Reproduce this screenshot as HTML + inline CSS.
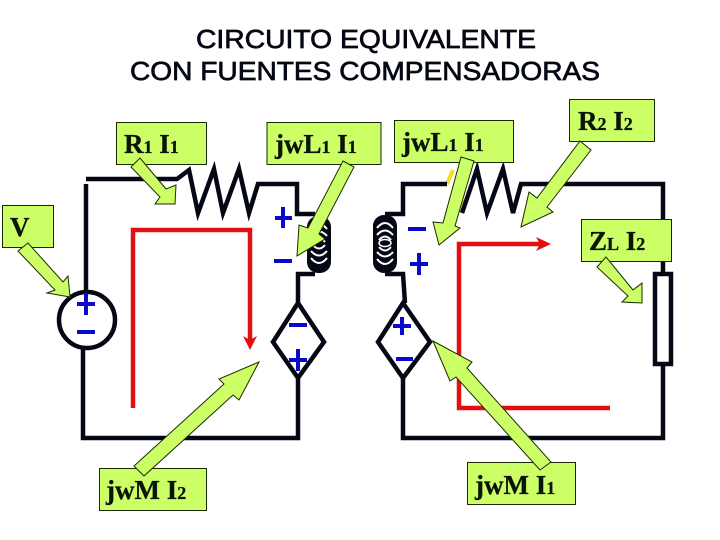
<!DOCTYPE html>
<html><head><meta charset="utf-8"><style>
html,body{margin:0;padding:0;background:#fff}
svg{display:block}
.w{fill:none;stroke:#050814;stroke-width:4.500;stroke-linejoin:miter}
.b{fill:none;stroke:#0a0ac8;stroke-width:4}
.r{fill:none;stroke:#e01010;stroke-width:4.500}
.g{fill:#ccff66;stroke:#1a2a00;stroke-width:1}
.t{font-family:"Liberation Serif",serif;font-weight:bold;font-size:27px;fill:#0c1408;stroke:#0c1408;stroke-width:.3}
.s{font-size:18px}
.h{font-family:"Liberation Sans",sans-serif;font-size:26px;fill:#050814;stroke:#050814;stroke-width:.7}
.c{fill:none;stroke:#fff;stroke-width:2}
</style></head><body>
<svg width="720" height="540" viewBox="0 0 720 540" xmlns="http://www.w3.org/2000/svg">
<rect width="720" height="540" fill="#fff"/>
<text class="h" x="196" y="48" textLength="340" lengthAdjust="spacingAndGlyphs">CIRCUITO EQUIVALENTE</text>
<text class="h" x="130" y="80" textLength="470" lengthAdjust="spacingAndGlyphs">CON FUENTES COMPENSADORAS</text>

<!-- yellow bits -->
<path d="M447 184L453 170M460 206L463 200" stroke="#f5e020" stroke-width="4" fill="none"/>

<!-- wires left -->
<path class="w" d="M86 179H177L189 170L198 213L214 169L223 213L239 169L249 213L258 184H297V214H315"/>
<path class="w" d="M86 184V291"/>
<path class="w" d="M315 274H298V303"/>
<circle class="w" cx="87" cy="320" r="28"/>
<path class="w" d="M83 349V438H298V378"/>
<path class="w" d="M298 303L273 342L298 378L324 342Z"/>

<!-- left coil -->
<rect x="307" y="216" width="24" height="57" rx="11" fill="#050814"/>
<path class="c" d="M311 229Q319 219 327 229M311 236Q319 227 327 236M313 242Q319 235 325 242M313 245Q319 252 325 245M311 251Q319 260 327 251M311 258Q319 268 327 258"/>

<!-- wires right -->
<path class="w" d="M447 184H403V214H385"/>
<path class="w" d="M462 213L477 169L487 213L503 169L513 213L521 184H663V274"/>
<rect class="w" x="655" y="274" width="16" height="90" fill="#fff"/>
<path class="w" d="M385 274H403L405 303"/>
<path class="w" d="M663 364V438H403V378"/>
<path class="w" d="M403 303L378 342L403 378L430 342Z"/>

<!-- right coil -->
<rect x="373" y="215" width="24" height="58" rx="11" fill="#050814"/>
<path class="c" d="M377 228Q385 218 393 228M377 235Q385 226 393 235M379 240Q385 233 391 240M379 247Q385 254 391 247M377 252Q385 261 393 252M377 259Q385 269 393 259"/>
<ellipse cx="385" cy="243" rx="6" ry="3.500" fill="none" stroke="#fff" stroke-width="1.500"/>

<!-- red paths -->
<path class="r" d="M133 408V230H250V340"/>
<path d="M243 336L250 350L257 336L250 340Z" fill="#e01010"/>
<path class="r" d="M610 408H459V244H540"/>
<path d="M536 237L551 244L536 251L540 244Z" fill="#e01010"/>

<!-- signs -->
<g class="b">
<path d="M275 218H292M283 207V228M274 261H292"/>
<path d="M77 304H95M86 293V315M77 332H95"/>
<path d="M289 325H307M289 360H307M298 349V371"/>
<path d="M408 229H426M410 264H428M419 253V275"/>
<path d="M393 326H411M402 317V335M396 359H413"/>
</g>

<!-- boxes -->
<g class="g">
<rect x="116.500" y="122.500" width="90" height="42"/>
<rect x="267" y="122.500" width="114" height="42"/>
<rect x="2.500" y="205.500" width="51" height="42"/>
<rect x="394.500" y="120.500" width="119" height="42"/>
<rect x="569.500" y="99.500" width="85" height="42"/>
<rect x="581.500" y="219.500" width="90" height="42"/>
<rect x="99.500" y="468.500" width="107" height="42"/>
<rect x="467.500" y="462.500" width="108" height="42"/>
</g>

<!-- arrows -->
<g class="g">
<polygon points="28,243 18,251 55,290 47,293 70,297 68,276 63,282"/>
<polygon points="140,158 131,167 160,197 155,204 175,204 176,185 166,189"/>
<polygon points="343,161 354,167 319,234 325,239 297,256 299,225 308,228"/>
<polygon points="461,157 474,161 455,226 460,228 439,245 433,222 443,223"/>
<polygon points="580,141 591,150 547,207 553,212 521,227 529,192 537,198"/>
<polygon points="606,257 597,267 628,296 622,302 642,303 642,283 633,290"/>
<polygon points="134,466 144,476 233,395 239,400 259,362 219,379 224,384"/>
<polygon points="551,462 540,470 456,377 450,381 433,341 472,362 467,368"/>
</g>

<!-- labels -->
<text class="t" x="124" y="153">R<tspan class="s">1</tspan> I<tspan class="s">1</tspan></text>
<text class="t" x="275" y="153">jwL<tspan class="s">1</tspan> I<tspan class="s">1</tspan></text>
<text class="t" x="10" y="236">V</text>
<text class="t" x="402" y="151">jwL<tspan class="s">1</tspan> I<tspan class="s">1</tspan></text>
<text class="t" x="578" y="130">R<tspan class="s">2</tspan> I<tspan class="s">2</tspan></text>
<text class="t" x="589" y="250">Z<tspan class="s">L</tspan> I<tspan class="s">2</tspan></text>
<text class="t" x="106" y="499">jwM I<tspan class="s">2</tspan></text>
<text class="t" x="475" y="494">jwM I<tspan class="s">1</tspan></text>
</svg>
</body></html>
